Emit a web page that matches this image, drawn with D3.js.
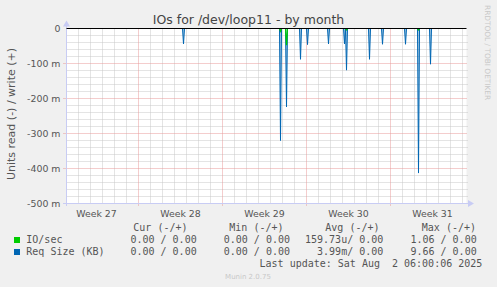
<!DOCTYPE html>
<html><head><meta charset="utf-8">
<script src="https://cdn.jsdelivr.net/npm/d3@7"></script>
<style>body{margin:0;background:#f0f0f0;overflow:hidden}</style>
</head><body>
<script>
// ---- data ----
const title = "IOs for /dev/loop11 - by month";
const timeStart = "2025-06-30 00:00";
const timeEnd = "2025-08-02 08:00";
const yTicks = [0, -0.1, -0.2, -0.3, -0.4, -0.5];
const yTickLabels = ["0", "-100 m", "-200 m", "-300 m", "-400 m", "-500 m"];
// Req Size (KB) read spikes (plotted negative)
const reqTimes = ["2025-07-09 18:00","2025-07-17 20:00","2025-07-18 08:00","2025-07-19 12:00","2025-07-20 02:00","2025-07-21 20:00","2025-07-23 04:00","2025-07-23 08:00","2025-07-25 06:00","2025-07-26 08:00","2025-07-28 06:00","2025-07-29 08:00","2025-07-30 08:00"];
const reqRead  = [0.044, 0.320, 0.224, 0.088, 0.046, 0.044, 0.044, 0.119, 0.088, 0.045, 0.045, 0.413, 0.102];
// IO/sec read spikes
const ioTimes = ["2025-07-17 20:00","2025-07-18 08:00","2025-07-23 08:00","2025-07-29 08:00"];
const ioRead  = [0.008, 0.048, 0.004, 0.004];
const legendHeaders = ["Cur (-/+)", "Min (-/+)", "Avg (-/+)", "Max (-/+)"];
const legendNames = ["IO/sec", "Req Size (KB)"];
const legendColors = ["#00cc00", "#0066b3"];
const legendValues = [
  ["0.00 / 0.00", "0.00 / 0.00", "159.73u/ 0.00", "1.06 / 0.00"],
  ["0.00 / 0.00", "0.00 / 0.00", "3.99m/ 0.00", "9.66 / 0.00"]
];
const lastUpdate = "Last update: Sat Aug  2 06:00:06 2025";
const footer = "Munin 2.0.75";
const sideText = "RRDTOOL / TOBI OETIKER";

// ---- chart ----
const W = 497, H = 287;
const parse = d3.timeParse("%Y-%m-%d %H:%M");
const t0 = parse(timeStart), t1 = parse(timeEnd);
const x = d3.scaleTime().domain([t0, t1]).range([66.5, 466.5]);
const y = d3.scaleLinear().domain([-0.5, 0]).range([203.5, 28.5]);
const snap = v => Math.round(v - 0.5) + 0.5;

const svg = d3.select("body").append("svg").attr("width", W).attr("height", H)
  .style("display", "block");
svg.append("rect").attr("width", W).attr("height", H).attr("fill", "#f0f0f0");
svg.append("rect").attr("x", 66.5).attr("y", 28.5).attr("width", 400).attr("height", 175).attr("fill", "#ffffff");

const grid = svg.append("g");
const minorY = d3.range(0, 26).map(i => -i * 0.02).filter((v, i) => i % 5 !== 0);
grid.selectAll(".hmin").data(minorY).join("line")
  .attr("x1", 66.5).attr("x2", 467.5).attr("y1", d => snap(y(d))).attr("y2", d => snap(y(d)))
  .attr("stroke", "#c8c8c8").attr("stroke-dasharray", "1,1");
const days = d3.timeDay.range(t0, t1).filter(d => d.getDay() !== 0 && +d !== +t0);
grid.selectAll(".vmin").data(days).join("line")
  .attr("x1", d => snap(x(d))).attr("x2", d => snap(x(d)))
  .attr("y1", 28.5).attr("y2", 203.5)
  .attr("stroke", "#c8c8c8").attr("stroke-dasharray", "1,1");
grid.selectAll(".hmaj").data(yTicks.slice(1, -1)).join("line")
  .attr("x1", 63.5).attr("x2", 467.5).attr("y1", d => snap(y(d))).attr("y2", d => snap(y(d)))
  .attr("stroke", "#e89a9a").attr("stroke-dasharray", "1,1");
const weeks = d3.timeSunday.range(t0, t1);
grid.selectAll(".vmaj").data(weeks).join("line")
  .attr("x1", d => snap(x(d))).attr("x2", d => snap(x(d)))
  .attr("y1", 28.5).attr("y2", 206.5)
  .attr("stroke", "#e89a9a").attr("stroke-dasharray", "1,1");

// axes
const axisColor = "#c8ccf4";
svg.append("line").attr("x1", 66.5).attr("x2", 66.5).attr("y1", 206).attr("y2", 24).attr("stroke", axisColor);
svg.append("path").attr("d", "M63,26.5 L70,26.5 L66.5,20.5 Z").attr("fill", axisColor);
svg.append("line").attr("x1", 63).attr("x2", 470).attr("y1", 203.5).attr("y2", 203.5).attr("stroke", axisColor);
svg.append("path").attr("d", "M468,200 L468,207 L474,203.5 Z").attr("fill", axisColor);

svg.selectAll(".ytl").data(yTicks).join("text")
  .attr("x", 60.5).attr("y", d => y(d) + 3.4)
  .attr("text-anchor", "end").attr("font-family", "DejaVu Sans").attr("font-size", "9.4px")
  .attr("fill", "#555").text((d, i) => yTickLabels[i]);
const weekFmt = d3.timeFormat("Week %V");
const allWeeks = [d3.timeSunday.floor(t0)].concat(weeks);
svg.selectAll(".xtl").data(allWeeks.map(d => d3.timeHour.offset(d, 84))).join("text")
  .attr("x", d => x(d)).attr("y", 217)
  .attr("text-anchor", "middle").attr("font-family", "DejaVu Sans").attr("font-size", "9.4px")
  .attr("fill", "#555").text(d => weekFmt(d));

// series: each spike drawn as a V from zero
function spikePath(times, vals) {
  return times.map((s, i) => {
    const t = parse(s);
    return line([[d3.timeHour.offset(t, -2), 0], [t, -vals[i]], [d3.timeHour.offset(t, 2), 0]]);
  }).join(" ");
}
const line = d3.line().x(d => x(d[0])).y(d => y(d[1]));
const plot = svg.append("g");
plot.append("path").attr("d", spikePath(reqTimes, reqRead)).attr("fill", "rgba(0,102,179,0.35)").attr("stroke", legendColors[1]).attr("stroke-width", 1);
plot.append("path").attr("d", spikePath(ioTimes, ioRead)).attr("fill", "none").attr("stroke", legendColors[0]).attr("stroke-width", 1.2);
plot.append("line").attr("x1", 66.5).attr("x2", 466.5).attr("y1", 28.5).attr("y2", 28.5).attr("stroke", "#000");

// titles
svg.append("text").attr("x", 248.5).attr("y", 24).attr("text-anchor", "middle")
  .attr("font-family", "DejaVu Sans").attr("font-size", "12.5px").attr("fill", "#444").text(title);
svg.append("text").attr("transform", "translate(15,114) rotate(-90)").attr("text-anchor", "middle")
  .attr("font-family", "DejaVu Sans").attr("font-size", "11px").attr("fill", "#555").text("Units read (-) / write (+)");
svg.append("text").attr("transform", "translate(485,5) rotate(90)").attr("text-anchor", "start")
  .attr("font-family", "DejaVu Sans").attr("font-size", "7.4px").attr("fill", "#c8c8c8").text(sideText);

// legend
const mono = "DejaVu Sans Mono";
const headerRight = [187.5, 283.5, 379.5, 476];
const valueRight = [196.7, 290, 383.3, 476.7];
svg.selectAll(".lh").data(legendHeaders).join("text")
  .attr("x", (d, i) => headerRight[i]).attr("y", 231).attr("text-anchor", "end")
  .attr("font-family", mono).attr("font-size", "10px").attr("fill", "#555").text(d => d);
legendNames.forEach((name, r) => {
  const by = 243 + r * 12;
  svg.append("rect").attr("x", 14).attr("y", by - 6).attr("width", 6).attr("height", 6).attr("fill", legendColors[r]);
  svg.append("text").attr("x", 26.3).attr("y", by).attr("font-family", mono).attr("font-size", "10px")
    .attr("fill", "#555").style("white-space", "pre").text(name);
  legendValues[r].forEach((v, c) => {
    svg.append("text").attr("x", valueRight[c]).attr("y", by).attr("text-anchor", "end")
      .attr("font-family", mono).attr("font-size", "10px").attr("fill", "#555").style("white-space", "pre").text(v);
  });
});
svg.append("text").attr("x", 482.3).attr("y", 267).attr("text-anchor", "end")
  .attr("font-family", mono).attr("font-size", "10px").attr("fill", "#555").style("white-space", "pre").text(lastUpdate);
svg.append("text").attr("x", 248).attr("y", 278.5).attr("text-anchor", "middle")
  .attr("font-family", "DejaVu Sans").attr("font-size", "7px").attr("fill", "#c8c8c8").text(footer);
</script>
</body></html>
